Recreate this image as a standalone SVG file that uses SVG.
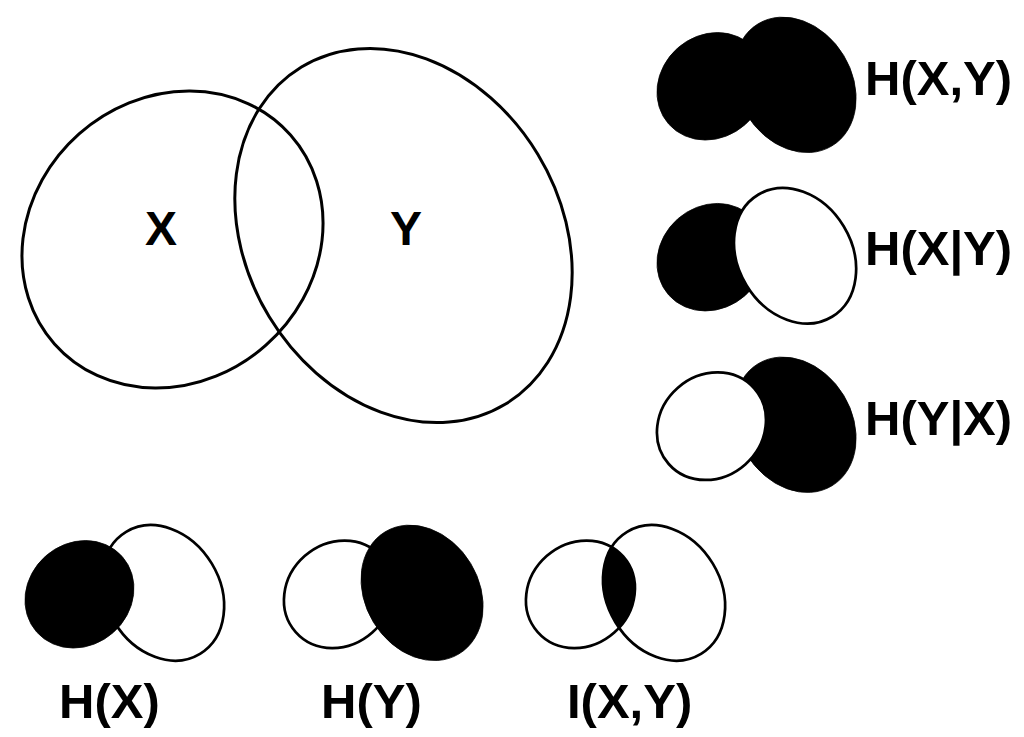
<svg xmlns="http://www.w3.org/2000/svg" xmlns:xlink="http://www.w3.org/1999/xlink" width="1024" height="737" viewBox="0 0 1024 737">
<style>
.lbl{font-family:"Liberation Sans",Arial,Helvetica,sans-serif;font-weight:bold;font-size:49px;fill:#000}
.big{font-family:"Liberation Sans",Arial,Helvetica,sans-serif;font-weight:bold;font-size:48px;fill:#000;text-anchor:middle}
.out{fill:none;stroke:#000;stroke-width:3}
.sout{fill:#fff;stroke:#000;stroke-width:7.5}
.sline{fill:none;stroke:#000;stroke-width:7.5}
.blk{fill:#000;stroke:#000;stroke-width:2}
</style>
<defs>
<ellipse id="ex" cx="172.5" cy="239.5" rx="157.6" ry="141" transform="rotate(-41.5 172.5 239.5)"/>
<ellipse id="ey" cx="403.5" cy="235.5" rx="157" ry="197" transform="rotate(-31.2 403.5 235.5)"/>
<clipPath id="clipX"><use xlink:href="#ex"/></clipPath>
</defs>
<rect width="1024" height="737" fill="#fff"/>

<g id="main">
<use xlink:href="#ex" class="out"/>
<use xlink:href="#ey" class="out"/>
<text class="big" x="161" y="245">X</text>
<text class="big" x="406" y="245">Y</text>
</g>

<g id="HXY">
<g transform="translate(649,-0.4) scale(0.362)">
<use xlink:href="#ex" class="blk"/>
<use xlink:href="#ey" class="blk"/>
</g>
<text class="lbl" x="865" y="95">H(X,Y)</text>
</g>

<g id="HXgivenY">
<g transform="translate(649,170.5) scale(0.362)">
<use xlink:href="#ex" class="blk"/>
<use xlink:href="#ey" class="sout"/>
</g>
<text class="lbl" x="865" y="265">H(X|Y)</text>
</g>

<g id="HYgivenX">
<g transform="translate(649,339.5) scale(0.362)">
<use xlink:href="#ey" class="blk"/>
<use xlink:href="#ex" class="sout"/>
</g>
<text class="lbl" x="865" y="435">H(Y|X)</text>
</g>

<g id="HX">
<g transform="translate(17,507.6) scale(0.362)">
<use xlink:href="#ey" class="sout"/>
<use xlink:href="#ex" class="blk"/>
</g>
<text class="lbl" x="59" y="718">H(X)</text>
</g>

<g id="HY">
<g transform="translate(276,507.6) scale(0.362)">
<use xlink:href="#ex" class="sout"/>
<use xlink:href="#ey" class="blk"/>
</g>
<text class="lbl" x="321" y="718">H(Y)</text>
</g>

<g id="IXY">
<g transform="translate(518,507.6) scale(0.362)">
<g clip-path="url(#clipX)"><use xlink:href="#ey" fill="#000"/></g>
<use xlink:href="#ex" class="sline"/>
<use xlink:href="#ey" class="sline"/>
</g>
<text class="lbl" x="567" y="718">I(X,Y)</text>
</g>

<g id="connectors"/>
</svg>
